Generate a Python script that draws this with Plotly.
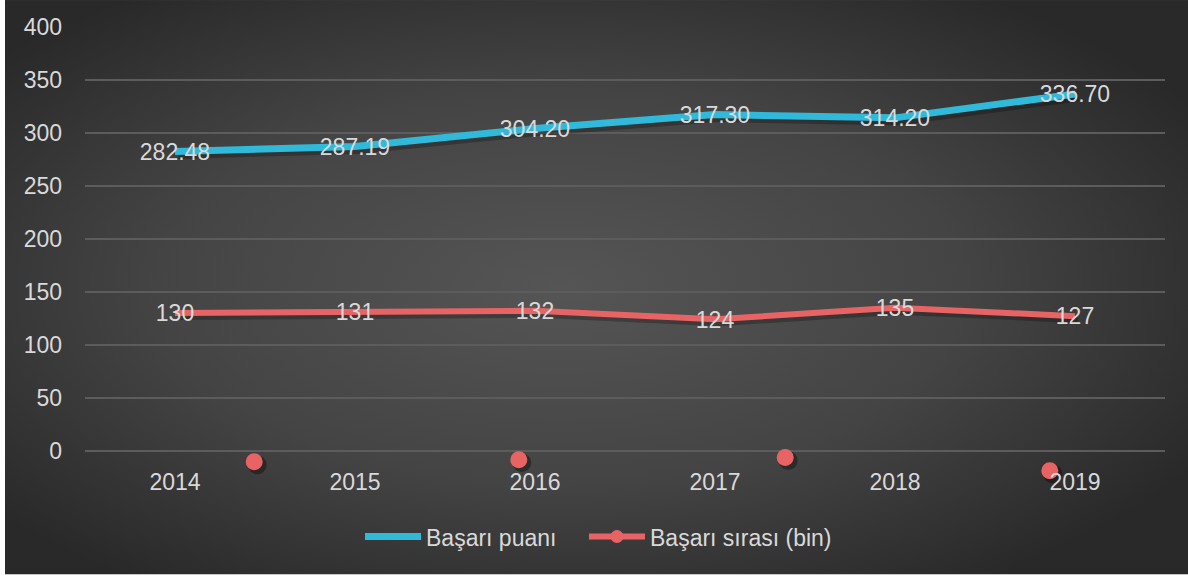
import base64
import plotly.graph_objects as go

years = ["2014", "2015", "2016", "2017", "2018", "2019"]
puan = [282.48, 287.19, 304.20, 317.30, 314.20, 336.70]
puan_labels = ["282.48", "287.19", "304.20", "317.30", "314.20", "336.70"]
sira = [130, 131, 132, 124, 135, 127]
sira_labels = ["130", "131", "132", "124", "135", "127"]
# stray markers visible near the x axis (position in category units, value)
stray_x = [0.44, 1.91, 3.39, 4.86]
stray_y = [-10.5, -8.5, -6.5, -19]

BLUE = "#30b9d9"
RED = "#e86464"
TXT = "#d9d9d9"
FONT = "Liberation Sans"
FS = 23

W, H = 1188, 577
Y0PX, Y400PX = 451, 27
PXU = (Y0PX - Y400PX) / 400.0
YMIN = -23
BOT = Y0PX - YMIN * PXU
L, R, T = 85, 23, 27
B = H - BOT
pw, ph = W - L - R, BOT - T
SH_X, SH_Y = 3, 3  # shadow offset in px
TXT_DY = 2.5       # label baseline nudge in px

svg = """<svg xmlns='http://www.w3.org/2000/svg' width='1183' height='575' viewBox='0 0 1183 575' preserveAspectRatio='none'>
<defs><radialGradient id='g' cx='0.47' cy='0.5' r='0.62'>
<stop offset='0' stop-color='#555555'/><stop offset='0.55' stop-color='#444444'/><stop offset='1' stop-color='#292929'/>
</radialGradient></defs><rect x='0' y='0' width='1183' height='575' fill='url(#g)'/></svg>"""
src = "data:image/svg+xml;base64," + base64.b64encode(svg.encode()).decode()

idx = list(range(len(years)))
fig = go.Figure()

# soft shadows (same data drawn on slightly shifted, hidden base axes x/y)
fig.add_trace(go.Scatter(x=idx, y=puan, mode="lines", xaxis="x", yaxis="y",
                         line=dict(color="rgba(0,0,0,0.25)", width=9), showlegend=False, hoverinfo="skip"))
fig.add_trace(go.Scatter(x=idx, y=sira, mode="lines", xaxis="x", yaxis="y",
                         line=dict(color="rgba(0,0,0,0.25)", width=8), showlegend=False, hoverinfo="skip"))
fig.add_trace(go.Scatter(x=stray_x, y=stray_y, mode="markers", xaxis="x", yaxis="y", cliponaxis=False,
                         marker=dict(color="rgba(0,0,0,0.35)", size=19), showlegend=False, hoverinfo="skip"))

fig.add_trace(go.Scatter(x=years, y=puan, mode="lines", name="Başarı puanı", xaxis="x2", yaxis="y2",
                         line=dict(color=BLUE, width=7), legend="legend"))
fig.add_trace(go.Scatter(x=years, y=sira, mode="lines", name="Başarı sırası (bin)", showlegend=False,
                         xaxis="x2", yaxis="y2", line=dict(color=RED, width=6)))
fig.add_trace(go.Scatter(x=stray_x, y=stray_y, mode="markers", xaxis="x3", yaxis="y2", cliponaxis=False,
                         marker=dict(color=RED, size=17), showlegend=False, hoverinfo="skip"))
fig.add_trace(go.Scatter(x=[None], y=[None], mode="lines+markers", name="Başarı sırası (bin)",
                         xaxis="x2", yaxis="y2", legend="legend2",
                         line=dict(color=RED, width=6), marker=dict(color=RED, size=13)))

# data labels
fig.add_trace(go.Scatter(x=years, y=puan, mode="text", xaxis="x2", yaxis="y3", text=puan_labels,
                         textposition="middle center", textfont=dict(color=TXT, size=FS, family=FONT),
                         showlegend=False, hoverinfo="skip", cliponaxis=False))
fig.add_trace(go.Scatter(x=years, y=sira, mode="text", xaxis="x2", yaxis="y3", text=sira_labels,
                         textposition="middle center", textfont=dict(color=TXT, size=FS, family=FONT),
                         showlegend=False, hoverinfo="skip", cliponaxis=False))

leg_common = dict(orientation="h", xanchor="left", y=(BOT - 537) / ph, yanchor="middle",
                  font=dict(size=FS, color=TXT, family=FONT), bgcolor="rgba(0,0,0,0)", itemwidth=56)

fig.update_layout(
    width=W, height=H,
    margin=dict(l=L, r=R, t=T, b=B, autoexpand=False),
    paper_bgcolor="white",
    plot_bgcolor="rgba(0,0,0,0)",
    font=dict(family=FONT, color=TXT, size=FS),
    images=[dict(source=src, xref="paper", yref="paper",
                 x=(5 - L) / pw, y=1 + T / ph, sizex=(W - 5) / pw, sizey=575 / ph,
                 xanchor="left", yanchor="top", sizing="stretch", layer="below")],
    xaxis=dict(range=[-0.5 - SH_X / 180, 5.5 - SH_X / 180], visible=False, showgrid=False, zeroline=False),
    yaxis=dict(range=[YMIN + SH_Y / PXU, 400 + SH_Y / PXU], visible=False, showgrid=False, zeroline=False),
    xaxis2=dict(type="category", overlaying="x", range=[-0.5, 5.5], showgrid=False, zeroline=False,
                showline=False, tickfont=dict(size=FS, color=TXT), ticks="", anchor="free",
                position=(BOT - 466.5) / ph),
    xaxis3=dict(overlaying="x", range=[-0.5, 5.5], visible=False),
    yaxis2=dict(overlaying="y", side="left", range=[YMIN, 400], tick0=0, dtick=50, showgrid=True,
                gridcolor="#5c5c5c", gridwidth=2, zeroline=False, showline=False,
                tickfont=dict(size=FS, color=TXT), ticks="", ticklabelstandoff=22),
    yaxis3=dict(overlaying="y", range=[YMIN + TXT_DY / PXU, 400 + TXT_DY / PXU], visible=False),
    legend=dict(x=(360 - L) / pw, **leg_common),
    legend2=dict(x=(584 - L) / pw, **leg_common),
)

fig.write_html("out.html", config={"displayModeBar": False},
               post_script="document.body.style.margin='0px';")
